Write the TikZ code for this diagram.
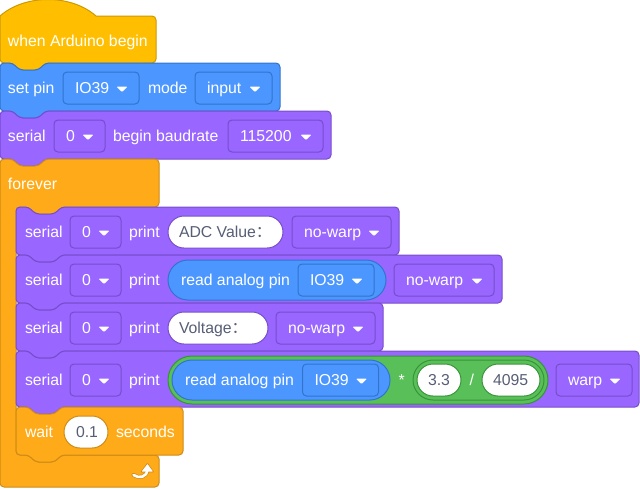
\documentclass[tikz,border=0pt]{standalone}
\usepackage{fontspec}
\setmainfont{Liberation Sans}
\newfontfamily\cjkfont{Noto Sans CJK SC}
\newcommand\blkfont{\fontsize{15.8pt}{18pt}\selectfont}
\definecolor{hatY}{HTML}{FFBF00}
\definecolor{hatYd}{HTML}{CC9900}
\definecolor{ctrlO}{HTML}{FFAB19}
\definecolor{ctrlOd}{HTML}{CF8B17}
\definecolor{motB}{HTML}{4C97FF}
\definecolor{motBd}{HTML}{3373CC}
\definecolor{purp}{HTML}{9966FF}
\definecolor{purpd}{HTML}{774DCB}
\definecolor{opG}{HTML}{59C059}
\definecolor{opGd}{HTML}{389438}
\definecolor{fldtxt}{HTML}{575E75}
\tikzset{
  lbl/.style={anchor=base west, inner sep=0pt, outer sep=0pt, text=white, font=\blkfont},
  fld/.style={lbl, text=fldtxt},
  edge/.style={line width=1pt, line join=round},
}
% x, y, w, h, fill, draw
\newcommand\stmtblk[6]{%
  \filldraw[edge, fill=#5, draw=#6, rounded corners=4pt]
    (#1,#2+10) -- (#1,#2) -- (#1+13,#2) -- (#1+19,#2+7) -- (#1+39,#2+7) -- (#1+45,#2)
    -- (#1+#3,#2) -- (#1+#3,#2+#4) -- (#1+45,#2+#4) -- (#1+39,#2+#4+7) -- (#1+19,#2+#4+7)
    -- (#1+13,#2+#4) -- (#1,#2+#4) -- cycle;}
% name, x, m, w, text, fill, draw
\newcommand\ddbox[7]{%
  \filldraw[edge, fill=#6, draw=#7, rounded corners=4pt] (#2,#3-16) rectangle (#2+#4,#3+16);
  \node[lbl] (#1) at (#2+12,#3+5.8) {#5};
  \fill[white, rounded corners=1pt] (#2+#4-22.5,#3-1.5) -- (#2+#4-11.5,#3-1.5) -- (#2+#4-17,#3+4) -- cycle;}
% x1, x2, m, half height, fill, draw
\newcommand\pillshape[6]{%
  \filldraw[edge, fill=#5, draw=#6, rounded corners=#4pt] (#1,#3-#4) rectangle (#2,#3+#4);}
\begin{document}
\begin{tikzpicture}[x=1pt, y=-1pt]
\useasboundingbox (0,0) rectangle (640,488);
% ---- hat block
\filldraw[edge, fill=hatY, draw=hatYd]
  (0,40) -- (0,16) .. controls (25,-6) and (71,-6) .. (96,16)
  [rounded corners=4pt] -- (156,16) -- (156,63) -- (45,63) -- (39,70) -- (19,70) -- (13,63) -- (0,63) -- cycle;
\node[lbl] (hatT) at (8,46.3) {when Arduino begin};
% ---- set pin
\stmtblk{0}{63}{280}{48}{motB}{motBd}
\node[lbl] (spT) at (8,93.8) {set pin};
\ddbox{spPin}{63}{88}{76}{IO39}{motB}{motBd}
\node[lbl] (spMode) at (148,93.8) {mode};
\ddbox{spIn}{195}{88}{77}{input}{motB}{motBd}
% ---- serial begin
\stmtblk{0}{111}{331}{48}{purp}{purpd}
\node[lbl] (sbT) at (8,141.8) {serial};
\ddbox{sbN}{54}{136}{51}{0}{purp}{purpd}
\node[lbl] (sbB) at (113,141.8) {begin baudrate};
\ddbox{sbR}{228}{136}{95}{115200}{purp}{purpd}
% ---- forever
\filldraw[edge, fill=ctrlO, draw=ctrlOd, rounded corners=4pt]
  (0,170) -- (0,159) -- (13,159) -- (19,166) -- (39,166) -- (45,159) -- (159,159) -- (159,207)
  -- (61,207) -- (55,214) -- (35,214) -- (29,207) -- (16,207) -- (16,455) -- (29,455) -- (35,462)
  -- (55,462) -- (61,455) -- (159,455) -- (159,487) -- (0,487) -- cycle;
\node[lbl] (fvT) at (8,189.8) {forever};
\draw[ctrlOd, line width=4pt, line cap=round] (133.5,475) .. controls (139,479) and (147,477) .. (147.3,470);
\fill[ctrlOd, rounded corners=1pt] (140.3,472.3) -- (147.4,462.6) -- (154.3,472.3) -- cycle;
\draw[white, line width=2.6pt, line cap=round] (133.5,475) .. controls (139,479) and (147,477) .. (147.3,470);
\fill[white, rounded corners=0.6pt] (141.6,471.6) -- (147.4,464) -- (153,471.6) -- cycle;
% ---- row 1
\stmtblk{16}{207}{383}{48}{purp}{purpd}
\node[lbl] (r1s) at (25,237.8) {serial};
\ddbox{r1n}{70}{232}{51}{0}{purp}{purpd}
\node[lbl] (r1p) at (129,237.8) {print};
\pillshape{168}{283}{232}{16}{white}{purpd}
\node[fld] (r1v) at (179,237.8) {ADC Value{\cjkfont ：}};
\ddbox{r1w}{292}{232}{99}{no-warp}{purp}{purpd}
% ---- row 2
\stmtblk{16}{255}{486}{48}{purp}{purpd}
\node[lbl] (r2s) at (25,285.8) {serial};
\ddbox{r2n}{70}{280}{51}{0}{purp}{purpd}
\node[lbl] (r2p) at (129,285.8) {print};
\pillshape{168}{386}{280}{20}{motB}{motBd}
\node[lbl] (r2r) at (181,285.8) {read analog pin};
\ddbox{r2pin}{298}{280}{76}{IO39}{motB}{motBd}
\ddbox{r2w}{394}{280}{100}{no-warp}{purp}{purpd}
% ---- row 3
\stmtblk{16}{303}{367}{48}{purp}{purpd}
\node[lbl] (r3s) at (25,333.8) {serial};
\ddbox{r3n}{70}{328}{51}{0}{purp}{purpd}
\node[lbl] (r3p) at (129,333.8) {print};
\pillshape{168}{268}{328}{16}{white}{purpd}
\node[fld] (r3v) at (179,333.8) {Voltage{\cjkfont ：}};
\ddbox{r3w}{276}{328}{99}{no-warp}{purp}{purpd}
% ---- row 4
\stmtblk{16}{351}{623}{56}{purp}{purpd}
\node[lbl] (r4s) at (25,385.8) {serial};
\ddbox{r4n}{70}{380}{51}{0}{purp}{purpd}
\node[lbl] (r4p) at (129,385.8) {print};
\pillshape{168}{548}{380}{24}{opG}{opGd}
\pillshape{172}{390}{380}{20}{motB}{motBd}
\node[lbl] (r4r) at (185,385.8) {read analog pin};
\ddbox{r4pin}{302.5}{380}{76}{IO39}{motB}{motBd}
\node[lbl] (r4mul) at (398.5,385.8) {*};
\pillshape{413}{544}{380}{20}{opG}{opGd}
\pillshape{417}{461}{380}{16}{white}{opGd}
\node[fld] (r4a) at (428,385.8) {3.3};
\node[lbl] (r4div) at (469.5,385.8) {/};
\pillshape{482}{540}{380}{16}{white}{opGd}
\node[fld] (r4b) at (493,385.8) {4095};
\ddbox{r4w}{556}{380}{76}{warp}{purp}{purpd}
% ---- wait
\stmtblk{16}{407}{167}{48}{ctrlO}{ctrlOd}
\node[lbl] (wT) at (25,437.8) {wait};
\pillshape{64}{108}{432}{16}{white}{ctrlOd}
\node[fld] (wV) at (76,437.8) {0.1};
\node[lbl] (wS) at (116,437.8) {seconds};
\end{tikzpicture}
\end{document}
